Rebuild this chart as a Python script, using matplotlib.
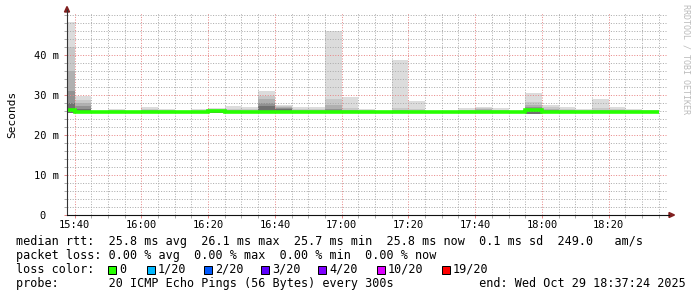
import matplotlib.pyplot as plt
from matplotlib.patches import Rectangle, Polygon
from matplotlib.lines import Line2D

W, H = 697, 297
MONO = 'DejaVu Sans Mono'

# 5 minute bins, edges in minutes after 15:00 (15:35 .. 18:35)
edges = [35, 40, 45, 50, 55, 60, 65, 70, 75, 80, 85, 90, 95, 100, 105, 110, 115, 120,
         125, 130, 135, 140, 145, 150, 155, 160, 165, 170, 175, 180, 185, 190, 195, 200,
         205, 210, 215]

# median rtt per bin (ms)
median = [26.2, 25.8, 25.8, 25.8, 25.7, 25.8, 25.8, 25.8, 25.8, 26.1, 25.8, 25.8,
          25.8, 25.8, 25.8, 25.8, 25.8, 25.8, 25.8, 25.8, 25.8, 25.8, 25.8, 25.8,
          25.8, 25.8, 25.8, 25.8, 26.2, 25.8, 25.8, 25.8, 25.8, 25.8, 25.8, 25.8]

# smoke: lowest ping and upper edges of the grey bands (lightest = highest ping)
smoke_lo = [25.4, 25.5, 25.5, 25.5, 25.6, 25.5, 25.5, 25.5, 25.5, 25.6, 25.5, 25.5,
            25.5, 25.4, 25.5, 25.5, 25.5, 25.5, 25.4, 25.6, 25.5, 25.5, 25.6, 25.6,
            25.5, 25.5, 25.5, 25.6, 25.3, 25.4, 25.5, 25.7, 25.5, 25.5, 25.5, 25.5]
smoke_1 = [48.2, 29.7, 26.1, 26.6, 25.9, 27.0, 26.5, 26.0, 26.4, 26.8, 27.3, 27.1,
           31.0, 27.6, 27.0, 27.0, 46.1, 29.6, 26.5, 26.0, 38.8, 28.5, 26.0, 26.0,
           26.7, 27.1, 26.7, 26.0, 30.5, 27.6, 27.0, 26.4, 29.0, 27.1, 26.6, 26.3]
smoke_2 = [42.0, 28.8, 26.0, 26.3, 25.8, 26.6, 26.2, 25.9, 26.1, 26.5, 26.5, 26.4,
           29.8, 27.2, 26.6, 26.5, 29.0, 26.8, 26.3, 25.9, 26.8, 26.4, 25.9, 25.9,
           26.3, 26.7, 26.3, 25.9, 28.2, 27.0, 26.6, 26.2, 26.8, 26.5, 26.3, 26.1]
smoke_3 = [36.0, 28.0, 25.9, 26.1, 25.8, 26.3, 26.0, 25.9, 26.0, 26.3, 26.2, 26.1,
           29.0, 27.0, 26.3, 26.2, 27.5, 26.3, 26.1, 25.9, 26.3, 26.1, 25.9, 25.9,
           26.1, 26.4, 26.1, 25.9, 27.5, 26.6, 26.3, 26.0, 26.3, 26.2, 26.1, 26.0]
smoke_4 = [31.0, 27.3, 25.9, 26.0, 25.8, 26.1, 25.9, 25.9, 25.9, 26.2, 26.0, 26.0,
           28.0, 26.8, 26.1, 26.0, 26.5, 26.0, 26.0, 25.9, 26.0, 26.0, 25.9, 25.9,
           26.0, 26.1, 26.0, 25.9, 27.0, 26.2, 26.1, 25.9, 26.1, 26.0, 26.0, 25.9]
smoke_5 = [28.0, 26.6, 25.9, 25.9, 25.8, 26.0, 25.9, 25.9, 25.9, 26.2, 25.9, 25.9,
           27.2, 26.4, 26.0, 25.9, 26.1, 25.9, 25.9, 25.9, 25.9, 25.9, 25.9, 25.9,
           25.9, 26.0, 25.9, 25.9, 26.6, 26.0, 26.0, 25.9, 26.0, 25.9, 25.9, 25.9]
smoke_bands = [smoke_1, smoke_2, smoke_3, smoke_4, smoke_5]
smoke_colors = ['#dcdcdc', '#c8c8c8', '#b0b0b0', '#929292', '#707070']

x_major = [40, 60, 80, 100, 120, 140, 160, 180, 200]
x_labels = ['15:40', '16:00', '16:20', '16:40', '17:00', '17:20', '17:40', '18:00', '18:20']
y_major = [0, 10, 20, 30, 40]
y_labels = ['0\u00a0\u00a0', '10 m', '20 m', '30 m', '40 m']

loss_labels = ['0', '1/20', '2/20', '3/20', '4/20', '10/20', '19/20']
loss_colors = ['#26ff00', '#00b8ff', '#0059ff', '#5e00ff', '#7e00ff', '#dd00ff', '#ff0000']
loss_box_x = [108, 147, 204, 261, 318, 377, 442]

GRID = '#acacac'
MGRID = '#e88888'

fig = plt.figure(figsize=(W / 100, H / 100), dpi=100)
ax = fig.add_axes([67 / W, (H - 215) / H, 601 / W, 202 / H])

for band, col in zip(smoke_bands, smoke_colors):
    ax.stairs(band, edges, baseline=smoke_lo, fill=True, color=col, lw=0, zorder=1)
ax.stairs(median, edges, baseline=None, color=loss_colors[0], lw=2.6, zorder=3)

ax.set_xlim(37.75, 217.75)
ax.set_ylim(0, 50.5)

ax.set_xticks(x_major)
ax.set_xticks(list(range(40, 216, 5)), minor=True)
ax.set_xticklabels(x_labels)
ax.set_yticks(y_major)
ax.set_yticks(list(range(0, 51, 2)), minor=True)
ax.set_yticklabels(y_labels)

for lab in ax.get_xticklabels() + ax.get_yticklabels():
    lab.set_fontfamily(MONO)
    lab.set_fontsize(7.5)

ax.tick_params(which='both', direction='out', width=0.72)
ax.tick_params(which='major', length=2.2, color=MGRID)
ax.tick_params(which='minor', length=2.2, color=GRID)
ax.tick_params(axis='x', pad=1.5)
ax.tick_params(axis='y', pad=3.5)

ax.set_axisbelow(False)
ax.grid(which='major', color=MGRID, lw=0.72, ls=(0, (1, 1.6)))
ax.grid(which='minor', color=GRID, lw=0.72, ls=(0, (1, 1.6)))

for s in ax.spines.values():
    s.set_visible(False)

ax.set_ylabel('Seconds', fontfamily=MONO, fontsize=8)
ax.yaxis.set_label_coords(-50 / 601, 0.5)


def fx(px):
    return px / W


def fy(py):
    return 1 - py / H


# axes lines and arrows (rrdtool style)
fig.add_artist(Line2D([fx(67), fx(67)], [fy(215), fy(10)], color='#333333', lw=0.8))
fig.add_artist(Line2D([fx(67), fx(669)], [fy(215), fy(215)], color='#111111', lw=0.8))
fig.add_artist(Polygon([(fx(64.5), fy(12)), (fx(69.5), fy(12)), (fx(67), fy(6.5))],
                       closed=True, color='#801f1f'))
fig.add_artist(Polygon([(fx(669), fy(212.5)), (fx(669), fy(217.5)), (fx(674.5), fy(215))],
                       closed=True, color='#801f1f'))

# watermark
fig.text(fx(686), fy(4), 'RRDTOOL / TOBI OETIKER', rotation=270, ha='center', va='top',
         fontfamily=MONO, fontsize=6, color='#bbbbbb')

# legend
line1 = ('median rtt:'.ljust(13) + '25.8 ms avg'.ljust(13) + '26.1 ms max'.ljust(13)
         + '25.7 ms min'.ljust(13) + '25.8 ms now'.ljust(13) + '0.1 ms sd'.ljust(11)
         + '249.0'.ljust(8) + 'am/s')
line2 = ('packet loss:'.ljust(13) + '0.00 % avg'.ljust(12) + '0.00 % max'.ljust(12)
         + '0.00 % min'.ljust(12) + '0.00 % now')
line4 = ('probe:'.ljust(13) + '20 ICMP Echo Pings (56 Bytes) every 300s'.ljust(52)
         + 'end: Wed Oct 29 18:37:24 2025')

txt = dict(fontfamily=MONO, fontsize=8.5, va='center', ha='left', color='black')
fig.text(fx(16), fy(241), line1, **txt)
fig.text(fx(16), fy(255.5), line2, **txt)
fig.text(fx(16), fy(269.5), 'loss color:', **txt)
fig.text(fx(16), fy(283.5), line4, **txt)

for bx, col, lab in zip(loss_box_x, loss_colors, loss_labels):
    fig.add_artist(Rectangle((fx(bx), fy(273.5)), 8 / W, 8 / H, facecolor=col,
                             edgecolor='black', lw=0.72))
    fig.text(fx(bx + 11), fy(269.5), lab, **txt)

fig.savefig('out.png', dpi=100)
